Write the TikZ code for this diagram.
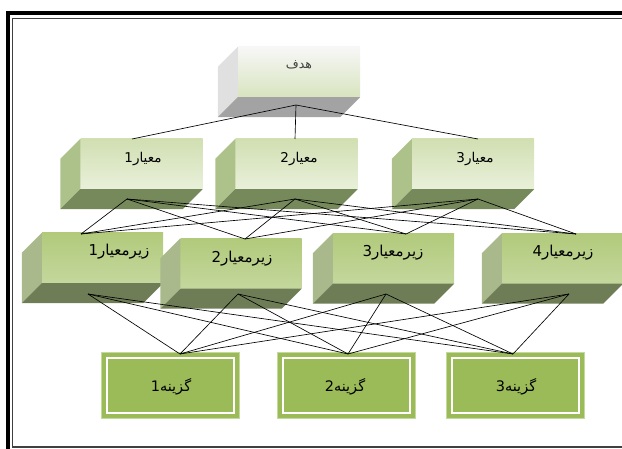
\documentclass[tikz,border=0pt]{standalone}
\usepackage{fontspec}
\newfontfamily\arabicfont[Script=Arabic]{DejaVu Sans}
\TeXXeTstate=1
\usetikzlibrary{calc}

\definecolor{goaltop}{HTML}{F7F7F7}
\definecolor{goalbot}{HTML}{D8E4BF}
\definecolor{goalside}{HTML}{E0E0E0}
\definecolor{goalfloor}{HTML}{A3A3A3}
\definecolor{crittop}{HTML}{D1DFB2}
\definecolor{critbot}{HTML}{E9F0DA}
\definecolor{critside}{HTML}{ADC28A}
\definecolor{critfloor}{HTML}{76895A}
\definecolor{subtop}{HTML}{B1CA7B}
\definecolor{submid}{HTML}{9DBC5C}
\definecolor{subbot}{HTML}{C4D79D}
\definecolor{subside}{HTML}{A9B98C}
\definecolor{subfloor}{HTML}{6E7D56}
\definecolor{altfill}{HTML}{9BBB59}
\definecolor{altedge}{HTML}{C5D89E}

% side and floor faces of a box, depth goes down-left
\newcommand{\boxsides}[3]{%
	\fill[#2] (#1.north west) -- ([shift={(-20,20)}]#1.north west)
		-- ([shift={(-20,20)}]#1.south west) -- (#1.south west) -- cycle;
	\fill[#3] (#1.south west) -- ([shift={(-20,20)}]#1.south west)
		-- ([shift={(-20,20)}]#1.south east) -- (#1.south east) -- cycle;
}

\begin{document}
\begin{tikzpicture}[x=1pt, y=-1pt,
	face/.style={inner sep=0pt, minimum width=122pt, minimum height=50pt},
	goalface/.style={face, top color=goaltop, bottom color=goalbot},
	critface/.style={face, top color=crittop, bottom color=critbot},
	subface/.style={face, minimum width=121pt, top color=subtop, middle color=submid, bottom color=subbot},
	altface/.style={inner sep=0pt, minimum width=138pt, minimum height=66pt, fill=altfill, draw=altedge, line width=1pt},
	lbl/.style={font=\arabicfont\fontsize{13.5}{15}\selectfont, inner sep=0pt},
	sublbl/.style={lbl, font=\arabicfont\fontsize{15}{17}\selectfont},
	altlbl/.style={lbl, font=\arabicfont\fontsize{14.5}{16}\selectfont},
	link/.style={line width=0.65pt, black}]
	\useasboundingbox (0,0) rectangle (622,449);
	\clip (0,0) rectangle (622,449);

	% frame
	\draw[line width=4pt] (8,13) rectangle (632,455);
	\draw[line width=1.5pt, black!75] (12.5,18.5) rectangle (627,447);

	% goal
	\node[goalface] (goal) at (299,72) {};
	\boxsides{goal}{goalside}{goalfloor}
	\node[lbl, black!75, font=\arabicfont\fontsize{12.5}{14}\selectfont] (goal-txt) at (299,65) {\beginR هدف\endR};
	\coordinate (goal-b) at (296,105);

	% criteria
	\node[critface] (c1) at (141.5,164) {};
	\node[critface] (c2) at (296.5,164) {};
	\node[critface] (c3) at (473,164) {};
	\foreach \n in {c1,c2,c3}{
		\boxsides{\n}{critside}{critfloor}
	}
	\node[lbl] (c1-txt) at (143,159) {\beginR معیار1\endR};
	\node[lbl] (c2-txt) at (299,159) {\beginR معیار2\endR};
	\node[lbl] (c3-txt) at (475,159) {\beginR معیار3\endR};
	\coordinate (c1-t) at (132,139);
	\coordinate (c2-t) at (295,139);
	\coordinate (c3-t) at (478,139);
	\coordinate (c1-b) at (127,199);
	\coordinate (c2-b) at (295,199);
	\coordinate (c3-b) at (478,199);

	% sub-criteria
	\node[subface] (s1) at (102.5,258) {};
	\node[subface] (s2) at (241,263.5) {};
	\node[subface] (s3) at (393.5,258.5) {};
	\node[subface] (s4) at (562.5,258.5) {};
	\foreach \n in {s1,s2,s3,s4}{
		\boxsides{\n}{subside}{subfloor}
	}
	\node[sublbl] (s1-txt) at (119,252) {\beginR زیرمعیار1\endR};
	\node[sublbl] (s2-txt) at (242,259) {\beginR زیرمعیار2\endR};
	\node[sublbl] (s3-txt) at (393,253) {\beginR زیرمعیار3\endR};
	\node[sublbl] (s4-txt) at (563,253) {\beginR زیرمعیار4\endR};
	\coordinate (s1-t) at (81,234);
	\coordinate (s2-t) at (245,239);
	\coordinate (s3-t) at (406,234);
	\coordinate (s4-t) at (576,234);
	\coordinate (s1-b) at (88,294);
	\coordinate (s2-b) at (238,294);
	\coordinate (s3-b) at (386,294);
	\coordinate (s4-b) at (569,294);

	% alternatives
	\node[altface] (a1) at (170,386) {};
	\node[altface] (a2) at (346,386) {};
	\node[altface] (a3) at (515,386) {};
	\foreach \n in {a1,a2,a3}{
		\draw[white, line width=2pt] ([shift={(6,6)}]\n.north west) rectangle ([shift={(-6,-6)}]\n.south east);
	}
	\node[altlbl] (a1-txt) at (171,387) {\beginR گزینه1\endR};
	\node[altlbl] (a2-txt) at (345,387) {\beginR گزینه2\endR};
	\node[altlbl] (a3-txt) at (516,387) {\beginR گزینه3\endR};
	\coordinate (a1-t) at (180,354);
	\coordinate (a2-t) at (348,354);
	\coordinate (a3-t) at (513,354);

	% links
	\foreach \c in {c1,c2,c3}
		\draw[link] (goal-b) -- (\c-t);
	\foreach \c in {c1,c2,c3}
		\foreach \s in {s1,s2,s3,s4}
			\draw[link] (\c-b) -- (\s-t);
	\foreach \s in {s1,s2,s3,s4}
		\foreach \a in {a1,a2,a3}
			\draw[link] (\s-b) -- (\a-t);
\end{tikzpicture}
\end{document}
